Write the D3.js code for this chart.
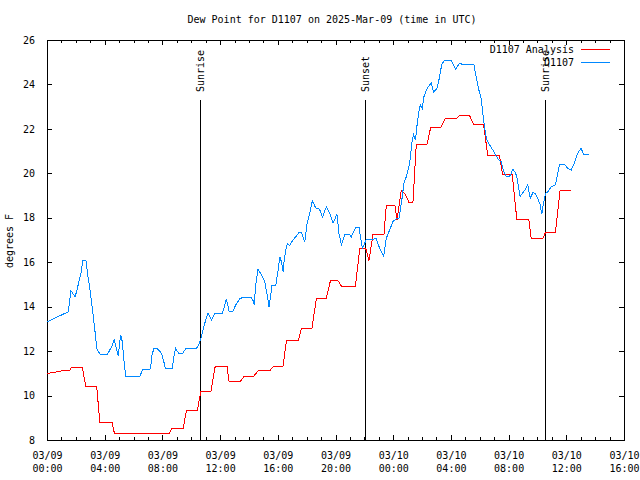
<!DOCTYPE html>
<html><head><meta charset="utf-8">
<script src="https://cdn.jsdelivr.net/npm/d3@7"></script>
<style>
body{margin:0;background:#fff;}
text{font-family:"DejaVu Sans Mono",monospace;font-size:10px;fill:#000;}
</style></head>
<body><svg id="c" width="640" height="480"></svg>
<script>
// ---- data (hours since 2025-03-09 00:00 UTC) ----
const titleText = "Dew Point for D1107 on 2025-Mar-09 (time in UTC)";
const yLabel = "degrees F";
const seriesNames = ["D1107 Analysis", "D1107"];
const yTicks = [8,10,12,14,16,18,20,22,24,26];
const xTickHours = [0,4,8,12,16,20,24,28,32,36,40];
const eventHours = [10.63, 22.07, 34.54];
const eventLabels = ["Sunrise", "Sunset", "Sunrise"];

const redHours = [0,0.3,0.9,1.6,1.7,2.45,2.68,3.44,3.67,4.52,4.67,8.47,8.68,9.44,9.67,10.43,10.66,11.36,11.66,12.48,12.62,13.41,13.69,14.35,14.63,15.44,15.72,16.36,16.6,17.43,17.64,18.37,18.68,19.37,19.65,20.17,20.43,21.38,21.68,22.09,22.32,22.6,23.36,23.52,24.12,24.26,24.56,24.8,25.09,25.37,25.6,26.34,26.6,27.29,27.61,28.37,28.6,29.29,29.59,30.26,30.56,31.37,31.58,32.25,32.57,33.4,33.57,34.37,34.56,35.25,35.57,36.34];
const redValues = [11.0,11.02,11.1,11.14,11.28,11.28,10.43,10.43,8.77,8.77,8.31,8.31,8.53,8.53,9.34,9.34,10.18,10.18,11.31,11.31,10.64,10.64,10.88,10.88,11.12,11.12,11.31,11.31,12.49,12.49,13.04,13.04,14.39,14.39,15.17,15.17,14.9,14.9,16.63,16.63,16.07,17.26,17.26,18.56,18.56,17.9,19.22,19.1,18.7,18.7,21.3,21.3,22.07,22.07,22.47,22.47,22.6,22.6,22.2,22.2,20.8,20.8,19.97,19.97,17.93,17.93,17.05,17.05,17.35,17.35,19.24,19.24];

const blueHours = [0,1.48,1.66,1.75,1.94,2.05,2.24,2.4,2.47,2.7,2.81,2.98,3.21,3.37,3.44,3.67,4.2,4.48,4.66,4.78,4.94,5.06,5.12,5.22,5.33,5.45,6.44,6.62,7.18,7.25,7.41,7.64,7.94,8.1,8.22,8.68,8.8,8.91,9.16,9.4,9.63,10.37,10.55,10.71,10.87,11.06,11.17,11.4,11.63,12.16,12.33,12.44,12.63,12.86,13.09,13.37,13.64,14.13,14.29,14.36,14.47,14.63,14.87,15.1,15.26,15.4,15.49,15.6,15.86,16.02,16.14,16.25,16.37,16.43,16.55,16.67,16.83,17.01,17.29,17.47,17.64,17.87,18.03,18.21,18.4,18.56,18.67,18.9,19.09,19.37,19.6,19.83,20.1,20.24,20.41,20.64,20.98,21.1,21.4,21.63,21.75,21.86,22.02,22.14,22.83,23.06,23.34,23.52,23.75,23.98,24.22,24.4,24.49,24.63,24.74,24.91,25.14,25.32,25.41,25.55,25.64,25.78,25.88,26.02,26.13,26.3,26.52,26.64,26.8,27.03,27.17,27.29,27.4,27.56,28.03,28.32,28.6,28.83,29.59,29.75,29.94,30.1,30.21,30.38,30.49,30.68,30.91,31.14,31.32,31.49,31.6,31.72,31.83,32.06,32.18,32.29,32.48,32.59,32.7,32.8,32.98,33.17,33.33,33.5,33.68,33.84,34.02,34.19,34.3,34.42,34.56,34.72,34.95,35.25,35.41,35.53,35.87,36.1,36.34,36.56,36.79,37.02,37.19,37.56];
const blueValues = [13.32,13.77,14.72,14.63,14.45,14.67,15.2,15.65,16.07,16.07,15.5,14.75,13.55,12.65,12.12,11.87,11.87,12.2,12.5,12.2,11.78,12.5,12.72,12.42,11.6,10.88,10.88,11.15,11.2,11.75,12.12,12.12,11.9,11.52,11.2,11.2,11.75,12.12,11.87,11.9,12.12,12.12,12.35,12.65,13.1,13.52,13.7,13.4,13.7,13.7,14.08,14.35,13.77,13.77,14.08,14.36,14.43,14.43,14.27,14.08,14.97,15.68,15.43,15.12,14.53,13.97,14.45,14.97,14.97,15.65,16.25,16.02,15.57,16.02,16.55,16.85,16.74,16.97,17.18,17.33,17.33,16.92,17.75,18.2,18.77,18.53,18.43,18.38,18.02,18.5,18.2,17.75,18.17,17.3,16.78,17.23,17.23,17.15,17.57,17.57,17.07,16.63,16.85,17.03,17.05,16.63,16.28,17.07,17.45,17.82,17.97,17.97,18.35,18.95,19.55,19.85,20.45,21.5,21.73,21.5,22.1,22.77,23.07,22.92,23.45,23.75,23.98,24.05,23.67,23.82,24.2,24.65,24.95,25.07,25.07,24.68,24.95,24.9,24.9,24.35,23.75,23.37,22.7,21.87,21.5,21.28,21.05,20.78,20.6,20.52,20.22,20.0,19.85,19.85,20.0,20.18,20.03,19.77,19.32,18.95,19.13,19.28,19.48,18.88,19.13,19.1,18.88,18.58,18.17,18.65,19.1,19.17,19.4,19.48,20.0,20.38,20.41,20.22,20.15,20.45,20.9,21.13,20.87,20.83];

const colors = ["#ff0000", "#0088ff"];

// ---- chart ----
const t0 = Date.UTC(2025, 2, 9, 0, 0);
const toDate = h => new Date(t0 + h * 3600e3);
const L = 47, R = 624, T = 40, B = 440;
const svg = d3.select("#c");
const x = d3.scaleUtc().domain([toDate(0), toDate(40)]).range([L, R]);
const y = d3.scaleLinear().domain([8, 26]).range([B, T]);

svg.append("text").attr("x", 332).attr("y", 23).attr("text-anchor", "middle").text(titleText);
svg.append("text").attr("transform", "translate(13,241) rotate(-90)").attr("text-anchor", "middle").text(yLabel);

const g = svg.append("g").attr("shape-rendering", "crispEdges");
const majorTicks = xTickHours.map(toDate);
const minorTicks = d3.range(0, 41).filter(h => h % 4 !== 0).map(toDate);

function tickAxis(axisFn, pos, ticks, size) {
  const a = g.append("g").attr("transform", pos)
    .call(axisFn(x).tickValues(ticks).tickSize(-size).tickFormat(""));
  a.select(".domain").remove();
  a.selectAll("line").attr("stroke", "#000");
  return a;
}
tickAxis(d3.axisBottom, `translate(0,${B})`, minorTicks, 3);
tickAxis(d3.axisTop, `translate(0,${T})`, minorTicks, 3);
tickAxis(d3.axisBottom, `translate(0,${B})`, majorTicks, 5);
tickAxis(d3.axisTop, `translate(0,${T})`, majorTicks, 5);

// x labels
const fD = d3.utcFormat("%m/%d"), fT = d3.utcFormat("%H:%M");
const xl = svg.append("g").attr("transform", `translate(0,${B})`)
  .call(d3.axisBottom(x).tickValues(majorTicks).tickSize(0).tickFormat(""));
xl.select(".domain").remove();
xl.selectAll(".tick").each(function(d) {
  const t = d3.select(this).select("text").attr("y", 19).attr("dy", null)
    .attr("text-anchor", "middle").attr("fill", "#000");
  t.append("tspan").attr("x", 0).text(fD(d));
  t.append("tspan").attr("x", 0).attr("dy", 13).text(fT(d));
});

// y axis
const ya = g.append("g").attr("transform", `translate(${L},0)`)
  .call(d3.axisLeft(y).tickValues(yTicks).tickSize(-5).tickPadding(12).tickFormat(d3.format("d")));
ya.select(".domain").remove();
ya.selectAll("line").attr("stroke", "#000");
ya.selectAll("text").attr("fill", "#000");
const yr = g.append("g").attr("transform", `translate(${R},0)`)
  .call(d3.axisRight(y).tickValues(yTicks).tickSize(-5).tickFormat(""));
yr.select(".domain").remove();
yr.selectAll("line").attr("stroke", "#000");
svg.selectAll(".tick text").style("font-family", '"DejaVu Sans Mono",monospace').style("font-size", "10px");

// frame
g.append("rect").attr("x", L).attr("y", T).attr("width", R - L).attr("height", B - T)
  .attr("fill", "none").attr("stroke", "#000");

// event lines
eventHours.forEach((h, i) => {
  const xx = Math.round(x(toDate(h))) + 0.5;
  g.append("line").attr("x1", xx).attr("x2", xx).attr("y1", 100).attr("y2", B).attr("stroke", "#000");
  svg.append("text").attr("transform", `translate(${xx},92) rotate(-90)`)
    .attr("dy", "0.35em").attr("text-anchor", "start").text(eventLabels[i]);
});

// series
const line = d3.line().x(d => x(toDate(d[0]))).y(d => y(d[1]));
const redData = d3.zip(redHours, redValues);
const blueData = d3.zip(blueHours, blueValues);
[redData, blueData].forEach((data, i) => {
  svg.append("path").datum(data).attr("d", line).attr("fill", "none")
    .attr("stroke", colors[i]).attr("stroke-width", 1).attr("shape-rendering", "crispEdges");
});

// legend
seriesNames.forEach((n, i) => {
  const yy = 49.5 + i * 13;
  svg.append("text").attr("x", 574).attr("y", yy).attr("dy", "0.35em").attr("text-anchor", "end").text(n);
  svg.append("line").attr("x1", 581).attr("x2", 610).attr("y1", yy).attr("y2", yy)
    .attr("stroke", colors[i]).attr("stroke-width", 1).attr("shape-rendering", "crispEdges");
});
</script></body></html>
